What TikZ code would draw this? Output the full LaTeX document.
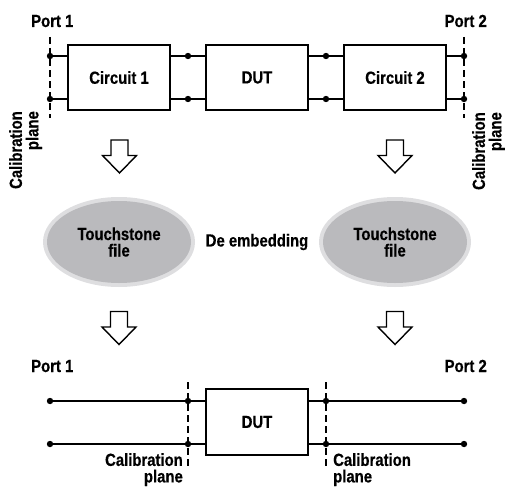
\documentclass[tikz,border=0pt]{standalone}
\usepackage{fontspec}
\newfontfamily\lab{Liberation Sans}[FakeStretch=0.85,FakeBold=0.5]
\usetikzlibrary{shapes.geometric}
\definecolor{ringgray}{RGB}{222,222,224}
\definecolor{innergray}{RGB}{186,186,189}
\tikzset{
  lbl/.style={font=\lab\bfseries\fontsize{17.5}{16.5}\selectfont, inner sep=0pt},
  blk/.style={draw, line width=2.6pt, minimum width=102pt, minimum height=65pt, inner sep=0pt, font=\lab\bfseries\fontsize{17.5}{16.5}\selectfont},
  wire/.style={line width=1.3pt},
  plane/.style={dashed, line width=1.2pt, dash pattern=on 7pt off 4pt},
  dot/.style={fill, radius=3.2pt},
  ring/.style={ellipse, fill=ringgray, minimum width=152pt, minimum height=90pt, inner sep=0pt},
  disc/.style={ellipse, fill=innergray, minimum width=144pt, minimum height=82pt, inner sep=0pt, align=center, font=\lab\bfseries\fontsize{17.5}{16.5}\selectfont},
  hollow/.pic={\draw[line width=1.4pt, line join=miter, fill=white] (-8.5,0) -- (8.5,0) -- (8.5,15.5) -- (17,15.5) -- (0,33) -- (-17,15.5) -- (-8.5,15.5) -- cycle;}
}
\begin{document}
\begin{tikzpicture}[x=1pt,y=-1pt]
\useasboundingbox (0,0) rectangle (505,487);
% ---------- top row ----------
\node[blk] (c1) at (119,77.5) {Circuit 1};
\node[blk] (dut1) at (257,77.5) {DUT};
\node[blk] (c2) at (395,77.5) {Circuit 2};
\coordinate (p1a) at (50,56); \coordinate (p1b) at (50,99);
\coordinate (m1a) at (188,56); \coordinate (m1b) at (188,99);
\coordinate (m2a) at (326,56); \coordinate (m2b) at (326,99);
\coordinate (p2a) at (464,56); \coordinate (p2b) at (464,99);
\coordinate (tl1) at (50,37); \coordinate (tl2) at (50,118);
\coordinate (tr1) at (464,37); \coordinate (tr2) at (464,118);
\draw[plane] (tl1) -- (tl2);
\draw[plane] (tr1) -- (tr2);
\draw[wire] (p1a) -- (p1a -| c1.west);
\draw[wire] (p1b) -- (p1b -| c1.west);
\draw[wire] (m1a -| c1.east) -- (m1a -| dut1.west);
\draw[wire] (m1b -| c1.east) -- (m1b -| dut1.west);
\draw[wire] (m2a -| dut1.east) -- (m2a -| c2.west);
\draw[wire] (m2b -| dut1.east) -- (m2b -| c2.west);
\draw[wire] (p2a -| c2.east) -- (p2a);
\draw[wire] (p2b -| c2.east) -- (p2b);
\foreach \c in {p1a,p1b,m1a,m1b,m2a,m2b,p2a,p2b} \fill[dot] (\c) circle;
\node[lbl, anchor=base west] (port1t) at (31,27) {Port 1};
\node[lbl, anchor=base east] (port2t) at (487,27) {Port 2};
\node[lbl, rotate=90, align=right, anchor=north east] (calL) at (9,111) {Calibration\\plane};
\node[lbl, rotate=90, align=right, anchor=north east] (calR) at (472,112) {Calibration\\plane};
% ---------- arrows ----------
\pic at (119.5,140) {hollow};
\pic at (395,140) {hollow};
\pic at (119,311.5) {hollow};
\pic at (395,311.5) {hollow};
% ---------- touchstone ----------
\node[ring] (r1) at (119,242) {};
\node[disc] (t1) at (119,242) {Touchstone\\file};
\node[ring] (r2) at (395,242) {};
\node[disc] (t2) at (395,242) {Touchstone\\file};
\node[lbl] (deemb) at (257,242) {De embedding};
% ---------- bottom row ----------
\node[blk, minimum height=66pt] (dut2) at (257,422) {DUT};
\coordinate (q1a) at (50,401); \coordinate (q1b) at (50,444);
\coordinate (n1a) at (188,401); \coordinate (n1b) at (188,444);
\coordinate (n2a) at (326,401); \coordinate (n2b) at (326,444);
\coordinate (q2a) at (464,401); \coordinate (q2b) at (464,444);
\coordinate (bl1) at (188,382); \coordinate (bl2) at (188,468);
\coordinate (br1) at (326,382); \coordinate (br2) at (326,468);
\draw[plane] (bl1) -- (bl2);
\draw[plane] (br1) -- (br2);
\draw[wire] (q1a) -- (q1a -| dut2.west);
\draw[wire] (q1b) -- (q1b -| dut2.west);
\draw[wire] (q2a -| dut2.east) -- (q2a);
\draw[wire] (q2b -| dut2.east) -- (q2b);
\foreach \c in {q1a,q1b,n1a,n1b,n2a,n2b,q2a,q2b} \fill[dot] (\c) circle;
\node[lbl, anchor=base west] (port1b) at (31,372) {Port 1};
\node[lbl, anchor=base east] (port2b) at (487,372) {Port 2};
\node[lbl, align=right, anchor=north east] (calBL) at (183,453) {Calibration\\plane};
\node[lbl, align=left, anchor=north west] (calBR) at (333,453) {Calibration\\plane};
\end{tikzpicture}
\end{document}
